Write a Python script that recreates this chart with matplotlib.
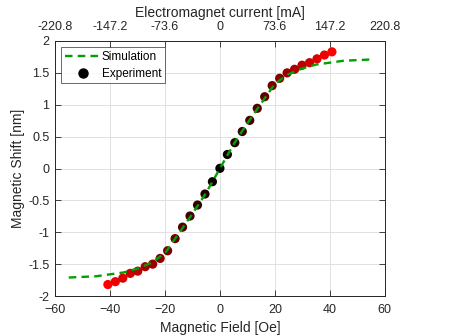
import matplotlib
matplotlib.use("Agg")
import matplotlib.pyplot as plt
import numpy as np

plt.rcParams['font.family'] = ['Liberation Sans', 'DejaVu Sans']

# Simulation curve
sim_field = [-55, -50, -45, -40, -35, -30, -25, -20, -15, -10, -5, 0,
             5, 10, 15, 20, 25, 30, 35, 40, 45, 50, 55]
sim_shift = [-1.71, -1.70, -1.69, -1.66, -1.63, -1.57, -1.48, -1.33, -1.02, -0.71, -0.38, 0.0,
             0.38, 0.71, 1.02, 1.33, 1.48, 1.57, 1.63, 1.66, 1.69, 1.70, 1.71]

# Experimental points
exp_field = [-40.76, -38.04, -35.33, -32.61, -29.89, -27.17, -24.46, -21.74, -19.02, -16.30,
             -13.59, -10.87, -8.15, -5.43, -2.72, 0.0, 2.72, 5.43, 8.15, 10.87,
             13.59, 16.30, 19.02, 21.74, 24.46, 27.17, 29.89, 32.61, 35.33, 38.04, 40.76]
exp_shift = [-1.82, -1.775, -1.72, -1.645, -1.61, -1.54, -1.50, -1.41, -1.29, -1.10,
             -0.92, -0.745, -0.573, -0.40, -0.207, 0.003, 0.22, 0.405, 0.58, 0.755,
             0.944, 1.126, 1.30, 1.415, 1.50, 1.556, 1.62, 1.66, 1.72, 1.78, 1.83]

x_ticks = [-60, -40, -20, 0, 20, 40, 60]
y_ticks = [-2, -1.5, -1, -0.5, 0, 0.5, 1, 1.5, 2]
y_tick_labels = ['-2', '-1.5', '-1', '-0.5', '0', '0.5', '1', '1.5', '2']
top_tick_labels = ['-220.8', '-147.2', '-73.6', '0', '73.6', '147.2', '220.8']

fig = plt.figure(figsize=(4.49, 3.36), dpi=100)
ax = fig.add_axes([0.1225, 0.119, 0.7345, 0.759])

axc = '#262626'
green = '#00a000'
fmax = max(abs(f) for f in exp_field)
colors = [(abs(f) / fmax, 0, 0) for f in exp_field]

ax.scatter(exp_field, exp_shift, s=44, c=colors, edgecolors='none', zorder=3)
ax.plot(sim_field, sim_shift, color=green, lw=1.7, dashes=(3.2, 2.2), zorder=4)

# legend proxies
h1, = ax.plot([], [], color=green, lw=1.7, dashes=(3.2, 2.2))
h2, = ax.plot([], [], 'o', color='black', ms=6.5)
leg = ax.legend([h1, h2], ['Simulation', 'Experiment'], loc='upper left',
                fontsize=8.5, frameon=True, fancybox=False, edgecolor=axc,
                handlelength=3.0, handletextpad=0.1, borderpad=0.3,
                labelspacing=0.4, borderaxespad=0.55)
leg.get_frame().set_linewidth(0.6)

ax.set_xlim(-60, 60)
ax.set_ylim(-2, 2)
ax.set_xticks(x_ticks)
ax.set_yticks(y_ticks)
ax.set_yticklabels(y_tick_labels)
ax.grid(True, color='#dcdcdc', lw=0.6)
ax.set_axisbelow(True)
ax.tick_params(direction='in', length=4, width=0.6, colors=axc, labelsize=9,
               right=True, labelcolor=axc)
ax.tick_params(axis='x', pad=6)
ax.tick_params(axis='y', pad=4)
for s in ax.spines.values():
    s.set_color(axc)
    s.set_linewidth(0.6)
ax.set_xlabel('Magnetic Field [Oe]', fontsize=10, color=axc, labelpad=3)
ax.set_ylabel('Magnetic Shift [nm]', fontsize=10, color=axc, labelpad=2)

ax2 = ax.twiny()
ax2.set_xlim(-60, 60)
ax2.set_xticks(x_ticks)
ax2.set_xticklabels(top_tick_labels)
ax2.tick_params(direction='in', length=4, width=0.6, colors=axc, labelsize=9, pad=5.5)
for s in ax2.spines.values():
    s.set_color(axc)
    s.set_linewidth(0.6)
ax2.set_xlabel('Electromagnet current [mA]', fontsize=10, color=axc, labelpad=3)

fig.savefig('out.png', dpi=100)
